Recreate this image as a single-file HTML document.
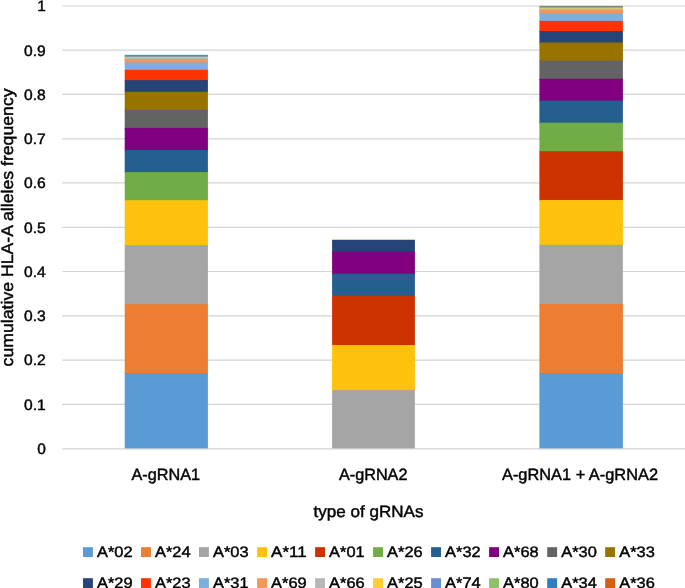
<!DOCTYPE html>
<html lang="en"><head><meta charset="utf-8"><title>cumulative HLA-A alleles frequency by type of gRNAs</title>
<style>html,body{margin:0;padding:0;background:#fff}svg{display:block}text{font-family:'Liberation Sans', sans-serif;fill:#000;stroke:#000;stroke-width:0.45px;text-rendering:geometricPrecision}</style></head><body>
<svg width="685" height="588" viewBox="0 0 685 588">
<rect width="685" height="588" fill="#fff"/>
<g stroke="#D4D4D4" stroke-width="1.2">
<line x1="62.2" x2="685" y1="448.90" y2="448.90"/>
<line x1="62.2" x2="685" y1="404.30" y2="404.30"/>
<line x1="62.2" x2="685" y1="360.10" y2="360.10"/>
<line x1="62.2" x2="685" y1="315.80" y2="315.80"/>
<line x1="62.2" x2="685" y1="271.50" y2="271.50"/>
<line x1="62.2" x2="685" y1="227.35" y2="227.35"/>
<line x1="62.2" x2="685" y1="182.85" y2="182.85"/>
<line x1="62.2" x2="685" y1="138.80" y2="138.80"/>
<line x1="62.2" x2="685" y1="94.30" y2="94.30"/>
<line x1="62.2" x2="685" y1="50.20" y2="50.20"/>
<line x1="62.2" x2="685" y1="6.00" y2="6.00"/>
</g>
<g>
<rect x="124.7" y="54.8" width="83.2" height="2.9" fill="#5590B4"/>
<rect x="124.7" y="56.7" width="83.2" height="2.3" fill="#DCC26C"/>
<rect x="124.7" y="58.0" width="83.2" height="2.0" fill="#B9B9B9"/>
<rect x="124.7" y="59.0" width="83.2" height="4.4" fill="#F1975A"/>
<rect x="124.7" y="62.4" width="83.2" height="8.4" fill="#7CAFDD"/>
<rect x="124.7" y="69.8" width="83.2" height="11.3" fill="#FF3300"/>
<rect x="124.7" y="80.1" width="83.2" height="12.7" fill="#264478"/>
<rect x="124.7" y="91.8" width="83.2" height="19.0" fill="#997300"/>
<rect x="124.7" y="109.8" width="83.2" height="19.1" fill="#636363"/>
<rect x="124.7" y="127.9" width="83.2" height="23.1" fill="#800080"/>
<rect x="124.7" y="150.0" width="83.2" height="23.1" fill="#255E91"/>
<rect x="124.7" y="172.1" width="83.2" height="29.1" fill="#70AD47"/>
<rect x="124.7" y="200.2" width="83.2" height="45.8" fill="#FFC20C"/>
<rect x="124.7" y="245.0" width="83.2" height="60.2" fill="#A5A5A5"/>
<rect x="124.7" y="304.2" width="83.2" height="69.9" fill="#ED7D31"/>
<rect x="124.7" y="373.1" width="83.2" height="75.3" fill="#5B9BD5"/>
</g>
<g>
<rect x="332.1" y="239.4" width="82.8" height="1.6" fill="#E8A060"/>
<rect x="332.1" y="240.0" width="82.8" height="12.7" fill="#264478"/>
<rect x="332.1" y="251.7" width="82.8" height="23.0" fill="#800080"/>
<rect x="332.1" y="273.7" width="82.8" height="22.9" fill="#255E91"/>
<rect x="332.1" y="295.6" width="82.8" height="50.4" fill="#CC3300"/>
<rect x="332.1" y="345.0" width="82.8" height="46.2" fill="#FFC20C"/>
<rect x="332.1" y="390.2" width="82.8" height="58.2" fill="#A5A5A5"/>
</g>
<g>
<rect x="539.4" y="5.9" width="83.5" height="2.5" fill="#688A88"/>
<rect x="539.4" y="7.4" width="83.5" height="2.6" fill="#DCC26C"/>
<rect x="539.4" y="9.0" width="83.5" height="2.0" fill="#B9B9B9"/>
<rect x="539.4" y="10.0" width="83.5" height="4.1" fill="#F1975A"/>
<rect x="539.4" y="13.1" width="83.5" height="8.8" fill="#7CAFDD"/>
<rect x="539.4" y="20.9" width="83.5" height="11.2" fill="#FF3300"/>
<rect x="539.4" y="31.1" width="83.5" height="12.4" fill="#264478"/>
<rect x="539.4" y="42.5" width="83.5" height="19.1" fill="#997300"/>
<rect x="539.4" y="60.6" width="83.5" height="19.2" fill="#636363"/>
<rect x="539.4" y="78.8" width="83.5" height="22.8" fill="#800080"/>
<rect x="539.4" y="100.6" width="83.5" height="23.1" fill="#255E91"/>
<rect x="539.4" y="122.7" width="83.5" height="29.5" fill="#70AD47"/>
<rect x="539.4" y="151.2" width="83.5" height="49.8" fill="#CC3300"/>
<rect x="539.4" y="200.0" width="83.5" height="45.8" fill="#FFC20C"/>
<rect x="539.4" y="244.8" width="83.5" height="60.2" fill="#A5A5A5"/>
<rect x="539.4" y="304.0" width="83.5" height="70.1" fill="#ED7D31"/>
<rect x="539.4" y="373.1" width="83.5" height="75.3" fill="#5B9BD5"/>
</g>
<g opacity="0.999">
<g font-size="15" text-anchor="end">
<text x="45.8" y="454" textLength="8.6" lengthAdjust="spacingAndGlyphs">0</text>
<text x="45.8" y="410" textLength="21.7" lengthAdjust="spacingAndGlyphs">0.1</text>
<text x="45.8" y="365" textLength="21.7" lengthAdjust="spacingAndGlyphs">0.2</text>
<text x="45.8" y="321" textLength="21.7" lengthAdjust="spacingAndGlyphs">0.3</text>
<text x="45.8" y="277" textLength="21.7" lengthAdjust="spacingAndGlyphs">0.4</text>
<text x="45.8" y="233" textLength="21.7" lengthAdjust="spacingAndGlyphs">0.5</text>
<text x="45.8" y="188" textLength="21.7" lengthAdjust="spacingAndGlyphs">0.6</text>
<text x="45.8" y="144" textLength="21.7" lengthAdjust="spacingAndGlyphs">0.7</text>
<text x="45.8" y="100" textLength="21.7" lengthAdjust="spacingAndGlyphs">0.8</text>
<text x="45.8" y="56" textLength="21.7" lengthAdjust="spacingAndGlyphs">0.9</text>
<text x="45.8" y="11" textLength="8.6" lengthAdjust="spacingAndGlyphs">1</text>
</g>
<g font-size="16.4" text-anchor="middle">
<text x="165.8" y="480" textLength="68.6" lengthAdjust="spacingAndGlyphs">A-gRNA1</text>
<text x="373.2" y="480" textLength="68.6" lengthAdjust="spacingAndGlyphs">A-gRNA2</text>
<text x="580" y="480" textLength="156" lengthAdjust="spacingAndGlyphs">A-gRNA1 + A-gRNA2</text>
<text x="368.5" y="517" textLength="110" lengthAdjust="spacingAndGlyphs">type of gRNAs</text>
<text font-size="16.7" transform="translate(13.2 227.4) rotate(-90)" textLength="278" lengthAdjust="spacingAndGlyphs">cumulative HLA-A alleles frequency</text>
</g>
<g font-size="15.2">
<rect x="83.0" y="547.2" width="9.9" height="9.8" fill="#5B9BD5"/>
<text x="97.0" y="557.0" textLength="35.6" lengthAdjust="spacingAndGlyphs">A*02</text>
<rect x="141.0" y="547.2" width="9.9" height="9.8" fill="#ED7D31"/>
<text x="155.0" y="557.0" textLength="35.6" lengthAdjust="spacingAndGlyphs">A*24</text>
<rect x="199.0" y="547.2" width="9.9" height="9.8" fill="#A5A5A5"/>
<text x="213.0" y="557.0" textLength="35.6" lengthAdjust="spacingAndGlyphs">A*03</text>
<rect x="257.1" y="547.2" width="9.9" height="9.8" fill="#FFC20C"/>
<text x="271.1" y="557.0" textLength="35.6" lengthAdjust="spacingAndGlyphs">A*11</text>
<rect x="315.1" y="547.2" width="9.9" height="9.8" fill="#CC3300"/>
<text x="329.1" y="557.0" textLength="35.6" lengthAdjust="spacingAndGlyphs">A*01</text>
<rect x="373.1" y="547.2" width="9.9" height="9.8" fill="#70AD47"/>
<text x="387.1" y="557.0" textLength="35.6" lengthAdjust="spacingAndGlyphs">A*26</text>
<rect x="431.1" y="547.2" width="9.9" height="9.8" fill="#255E91"/>
<text x="445.1" y="557.0" textLength="35.6" lengthAdjust="spacingAndGlyphs">A*32</text>
<rect x="489.1" y="547.2" width="9.9" height="9.8" fill="#800080"/>
<text x="503.1" y="557.0" textLength="35.6" lengthAdjust="spacingAndGlyphs">A*68</text>
<rect x="547.2" y="547.2" width="9.9" height="9.8" fill="#636363"/>
<text x="561.2" y="557.0" textLength="35.6" lengthAdjust="spacingAndGlyphs">A*30</text>
<rect x="605.2" y="547.2" width="9.9" height="9.8" fill="#997300"/>
<text x="619.2" y="557.0" textLength="35.6" lengthAdjust="spacingAndGlyphs">A*33</text>
<rect x="83.0" y="578.2" width="9.9" height="9.8" fill="#264478"/>
<text x="97.0" y="588.0" textLength="35.6" lengthAdjust="spacingAndGlyphs">A*29</text>
<rect x="141.0" y="578.2" width="9.9" height="9.8" fill="#FF3300"/>
<text x="155.0" y="588.0" textLength="35.6" lengthAdjust="spacingAndGlyphs">A*23</text>
<rect x="199.0" y="578.2" width="9.9" height="9.8" fill="#7CAFDD"/>
<text x="213.0" y="588.0" textLength="35.6" lengthAdjust="spacingAndGlyphs">A*31</text>
<rect x="257.1" y="578.2" width="9.9" height="9.8" fill="#F1975A"/>
<text x="271.1" y="588.0" textLength="35.6" lengthAdjust="spacingAndGlyphs">A*69</text>
<rect x="315.1" y="578.2" width="9.9" height="9.8" fill="#B7B7B7"/>
<text x="329.1" y="588.0" textLength="35.6" lengthAdjust="spacingAndGlyphs">A*66</text>
<rect x="373.1" y="578.2" width="9.9" height="9.8" fill="#FFCD33"/>
<text x="387.1" y="588.0" textLength="35.6" lengthAdjust="spacingAndGlyphs">A*25</text>
<rect x="431.1" y="578.2" width="9.9" height="9.8" fill="#698ED0"/>
<text x="445.1" y="588.0" textLength="35.6" lengthAdjust="spacingAndGlyphs">A*74</text>
<rect x="489.1" y="578.2" width="9.9" height="9.8" fill="#8CC168"/>
<text x="503.1" y="588.0" textLength="35.6" lengthAdjust="spacingAndGlyphs">A*80</text>
<rect x="547.2" y="578.2" width="9.9" height="9.8" fill="#327DC2"/>
<text x="561.2" y="588.0" textLength="35.6" lengthAdjust="spacingAndGlyphs">A*34</text>
<rect x="605.2" y="578.2" width="9.9" height="9.8" fill="#D26012"/>
<text x="619.2" y="588.0" textLength="35.6" lengthAdjust="spacingAndGlyphs">A*36</text>
</g>
</g>
</svg></body></html>
